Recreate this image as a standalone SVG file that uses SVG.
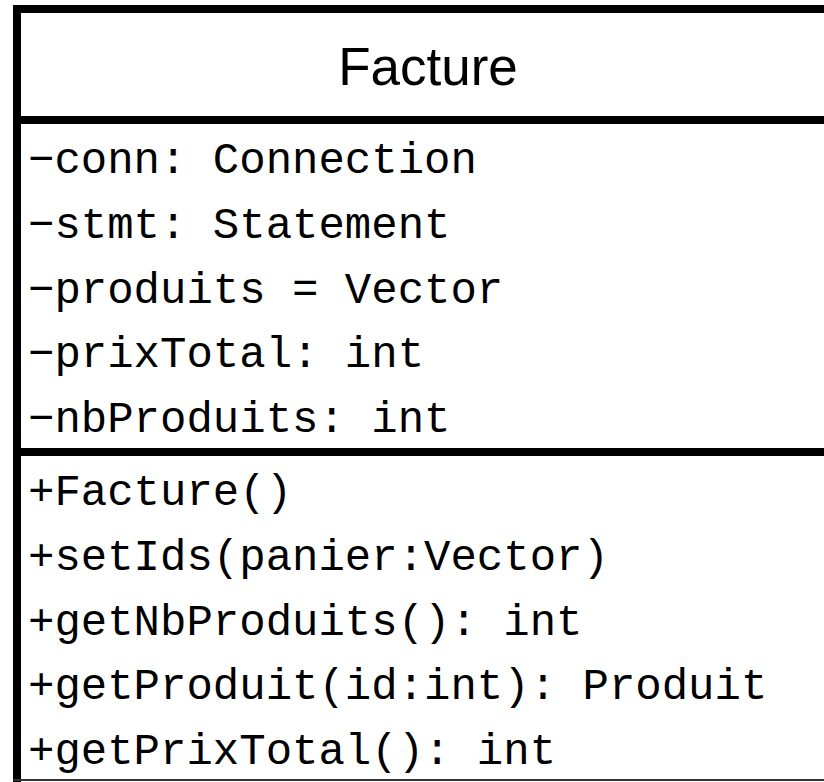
<svg xmlns="http://www.w3.org/2000/svg" width="824" height="782" viewBox="0 0 824 782">
  <style>
    .frame { stroke: #000; stroke-width: 8; fill: none; }
    .title { font-family: "Liberation Sans", Arial, sans-serif; font-size: 53px; fill: #000; text-anchor: middle; }
    .member { font-family: "Nimbus Mono PS", "Courier", "Liberation Mono", monospace; font-size: 44px; fill: #000; }
  </style>
  <rect width="824" height="782" fill="#fff"/>
  <g id="facture">
    <!-- class frame: left edge, top edge, compartment dividers, bottom edge -->
    <line class="frame" x1="17" y1="5" x2="17" y2="782"/>
    <line class="frame" x1="13" y1="9" x2="824" y2="9"/>
    <line class="frame" x1="13" y1="120" x2="824" y2="120"/>
    <line class="frame" x1="13" y1="452" x2="824" y2="452"/>
    <line x1="13" y1="780" x2="824" y2="780" stroke="#333" stroke-width="2"/>
    <text class="title" x="428" y="85">Facture</text>
    <!-- attributes -->
    <text class="member" x="28" y="173">−conn: Connection</text>
    <text class="member" x="28" y="238">−stmt: Statement</text>
    <text class="member" x="28" y="303">−produits = Vector</text>
    <text class="member" x="28" y="367">−prixTotal: int</text>
    <text class="member" x="28" y="432">−nbProduits: int</text>
    <!-- operations -->
    <text class="member" x="28" y="505">+Facture()</text>
    <text class="member" x="28" y="570">+setIds(panier:Vector)</text>
    <text class="member" x="28" y="635">+getNbProduits(): int</text>
    <text class="member" x="28" y="699">+getProduit(id:int): Produit</text>
    <text class="member" x="28" y="764">+getPrixTotal(): int</text>
  </g>
</svg>
